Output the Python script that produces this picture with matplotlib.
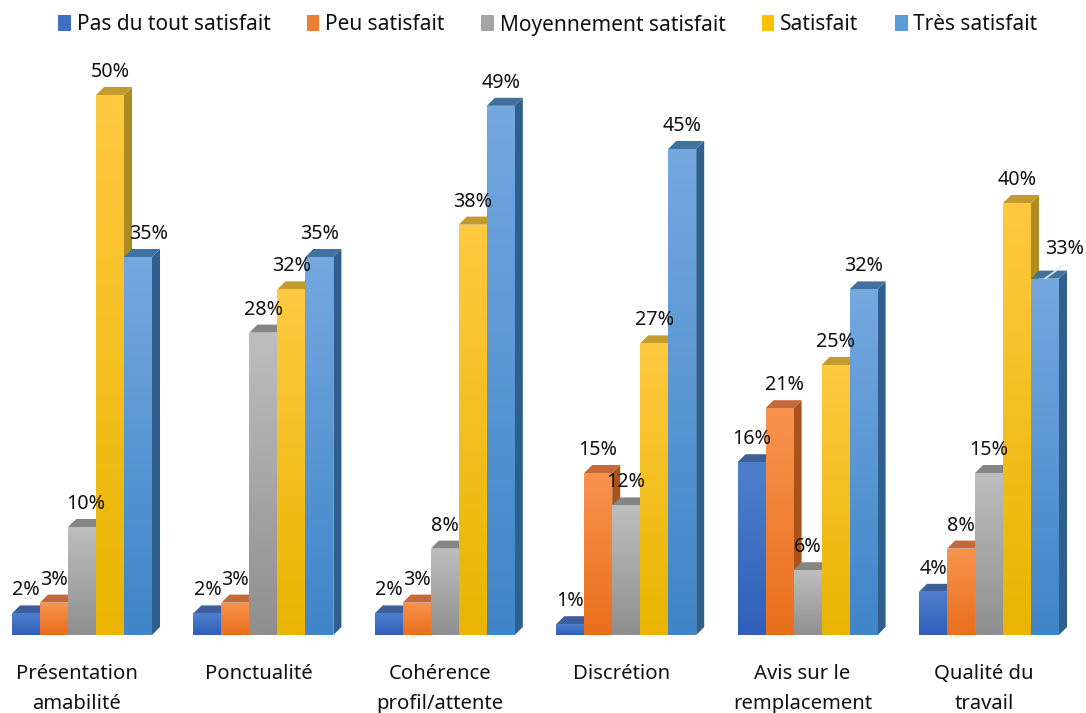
import numpy as np
import matplotlib
matplotlib.use('Agg')
import matplotlib.pyplot as plt
from matplotlib.colors import LinearSegmentedColormap
from matplotlib.patches import Patch, Polygon

plt.rcParams['font.family'] = ['Noto Sans', 'DejaVu Sans']

categories = ['Présentation\namabilité', 'Ponctualité', 'Cohérence\nprofil/attente',
              'Discrétion', 'Avis sur le\nremplacement', 'Qualité du\ntravail']
series_names = ['Pas du tout satisfait', 'Peu satisfait', 'Moyennement satisfait',
                'Satisfait', 'Très satisfait']
pas_du_tout = [2, 2, 2, 1, 16, 4]
peu = [3, 3, 3, 15, 21, 8]
moyen = [10, 28, 8, 12, 6, 15]
satisfait = [50, 32, 38, 27, 25, 40]
tres = [35, 35, 49, 45, 32, 33]
series = [pas_du_tout, peu, moyen, satisfait, tres]

# top of front face, bottom of front face, side face, top face
colors = [('#4F7FCC', '#2F5FB8', '#25457F', '#3F5F9C'),
          ('#F8934F', '#E96F1C', '#A9521A', '#C4693A'),
          ('#BEBEBE', '#8F8F8F', '#6A6A6A', '#858585'),
          ('#FFC941', '#E9B500', '#AE8A22', '#C39A2E'),
          ('#75A8DF', '#3F85C8', '#2F5F8C', '#41719E')]
legend_colors = ['#3F6FC4', '#ED7D31', '#A5A5A5', '#FFC000', '#5B9BD5']

# label nudges in pixels (series, group): (dx, dy), where the labels were moved by hand
nudges = {(4, 0): (11, 0), (2, 0): (4, 0), (1, 4): (5, 0), (4, 5): (20, 7)}

W, H = 1086, 713
PX_BAR = 28
PX_VAL = 10.8
PX_DEPTH = 8
BASE = 635
LEFT = 12
GROUP = 181.4 / PX_BAR

fig = plt.figure(figsize=(W / 100, H / 100), dpi=100)
ax = fig.add_axes([0, (H - BASE) / H, 1, BASE / H])
ax.set_xlim(-LEFT / PX_BAR, (W - LEFT) / PX_BAR)
ax.set_ylim(0, BASE / PX_VAL)
ax.set_autoscale_on(False)

dx = PX_DEPTH / PX_BAR
dy = PX_DEPTH / PX_VAL
grad = np.linspace(0, 1, 128).reshape(-1, 1)
z = 2
for g in range(len(categories)):
    for s, vals in enumerate(series):
        v = vals[g]
        x0 = g * GROUP + s
        top, bottom, side, roof = colors[s]
        ax.add_patch(Polygon([(x0 + 1, 0), (x0 + 1 + dx, dy), (x0 + 1 + dx, v + dy), (x0 + 1, v)],
                             closed=True, fc=side, ec='none', zorder=z))
        ax.add_patch(Polygon([(x0, v), (x0 + dx, v + dy), (x0 + 1 + dx, v + dy), (x0 + 1, v)],
                             closed=True, fc=roof, ec='none', zorder=z))
        bar = ax.bar(x0 + 0.5, v, width=1, color=bottom, zorder=z + 1)[0]
        cmap = LinearSegmentedColormap.from_list('c', [top, bottom])
        im = ax.imshow(grad, extent=(x0, x0 + 1, 0, v), cmap=cmap, aspect='auto',
                       origin='upper', zorder=z + 2)
        im.set_clip_path(bar)
        z += 3

for s, vals in enumerate(series):
    for g, v in enumerate(vals):
        nx, ny = nudges.get((s, g), (0, 0))
        ax.annotate(f'{v}%', (g * GROUP + s + 0.5, v), xytext=(nx, 23 + ny),
                    textcoords='offset pixels', ha='center', va='center',
                    fontsize=14.2, color='#111111', zorder=500)

# leader line of the last label
ax.annotate('', (5 * GROUP + 4.5, tres[5]), xytext=(5 * GROUP + 5.14, tres[5] + 1.2),
            arrowprops=dict(arrowstyle='-', color='#DCE8F5', lw=1.2, shrinkA=0, shrinkB=0),
            zorder=400)

ax.set_xticks([g * GROUP + 2.5 - 0.18 for g in range(len(categories))])
ax.set_xticklabels(categories, fontsize=14.6, linespacing=1.63, color='#111111')
ax.tick_params(axis='x', length=0, pad=21)
ax.set_yticks([])
for sp in ax.spines.values():
    sp.set_visible(False)
ax.patch.set_visible(False)

handles = [Patch(fc=c, ec='none') for c in legend_colors]
fig.legend(handles, series_names, loc='center', bbox_to_anchor=(548 / W, 1 - 25 / H), ncols=5,
           frameon=False, fontsize=15, handlelength=0.6, handleheight=0.8,
           handletextpad=0.28, columnspacing=1.75, labelcolor='#111111')

fig.savefig('out.png', dpi=100)
